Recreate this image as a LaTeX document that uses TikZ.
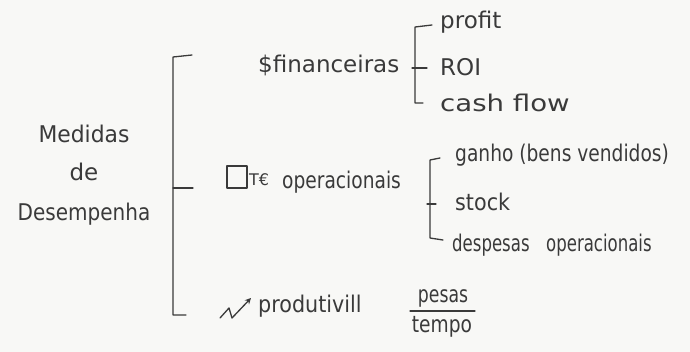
\documentclass[tikz,border=0pt]{standalone}
\usepackage{fontspec}
\usepackage{graphicx}
\setmainfont{DejaVu Sans}
\usetikzlibrary{arrows.meta}
\definecolor{pencil}{HTML}{3A3A3A}
\definecolor{paper}{HTML}{F8F8F6}
\newcommand{\wsc}[2]{\scalebox{#1}[1]{#2}}
\tikzset{
  lbl/.style={inner sep=0pt, text=pencil, font=\fontsize{23}{26}\selectfont, anchor=west},
  brk/.style={draw=pencil, line width=1.3pt, line cap=round, line join=round},
}
\begin{document}
\begin{tikzpicture}[x=1pt,y=-1pt]
\fill[paper] (0,0) rectangle (690,352);
\useasboundingbox (0,0) rectangle (690,352);

% root
\node[lbl, anchor=center] (med) at (84,134) {\wsc{0.95}{Medidas}};
\node[lbl, anchor=center] (de) at (84,172) {de};
\node[lbl, anchor=center] (des) at (84,214) {\wsc{0.87}{Desempenha}};

% big bracket
\coordinate (b1t) at (173,57);
\coordinate (b1m) at (173,188);
\coordinate (b1b) at (173,315);
\draw[brk] (192,55) -- (b1t) -- (b1b) -- (186,315);
\draw[brk] (b1m) -- (193,188);

% financeiras
\node[lbl] (fin) at (258,65) {\$financeiras};
\coordinate (b2t) at (415,27);
\coordinate (b2b) at (415,103);
\draw[brk] (432,25) -- (b2t) -- (b2b) -- (423,103);
\draw[brk] (412,68) -- (427,68);
\node[lbl] (profit) at (440,22) {profit};
\node[lbl] (roi) at (440,67) {ROI};
\node[lbl] (cash) at (440,103) {\wsc{1.2}{cash flow}};

% operacionais
\draw[brk] (227,166) rectangle (247,188);
\node[lbl, font=\fontsize{16}{18}\selectfont] (te) at (249,180) {T€};
\node[lbl] (op) at (282,182) {\wsc{0.81}{operacionais}};
\coordinate (b3t) at (430,160);
\coordinate (b3b) at (430,238);
\draw[brk] (440,158) -- (b3t) -- (b3b) -- (443,240);
\draw[brk] (427,204) -- (436,204);
\node[lbl] (ganho) at (455,155) {\wsc{0.81}{ganho (bens vendidos)}};
\node[lbl] (stock) at (455,202) {\wsc{0.9}{stock}};
\node[lbl] (desp) at (452,245) {\wsc{0.72}{despesas\quad operacionais}};

% produtividade
\coordinate (ar1) at (220,318);
\coordinate (ar2) at (229,308);
\coordinate (ar3) at (232,318);
\coordinate (ar4) at (251,298);
\draw[brk, -{Stealth[length=6pt,width=6pt]}] (ar1) -- (ar2) -- (ar3) -- (ar4);
\node[lbl] (prod) at (258,306) {\wsc{0.9}{produtivill}};
\node[lbl, anchor=south] (pesas) at (443,307) {\wsc{0.75}{pesas}};
\node[lbl, anchor=north] (tempo) at (442,316) {\wsc{0.81}{tempo}};
\draw[brk] (410,311) -- (475,311);
\end{tikzpicture}
\end{document}
